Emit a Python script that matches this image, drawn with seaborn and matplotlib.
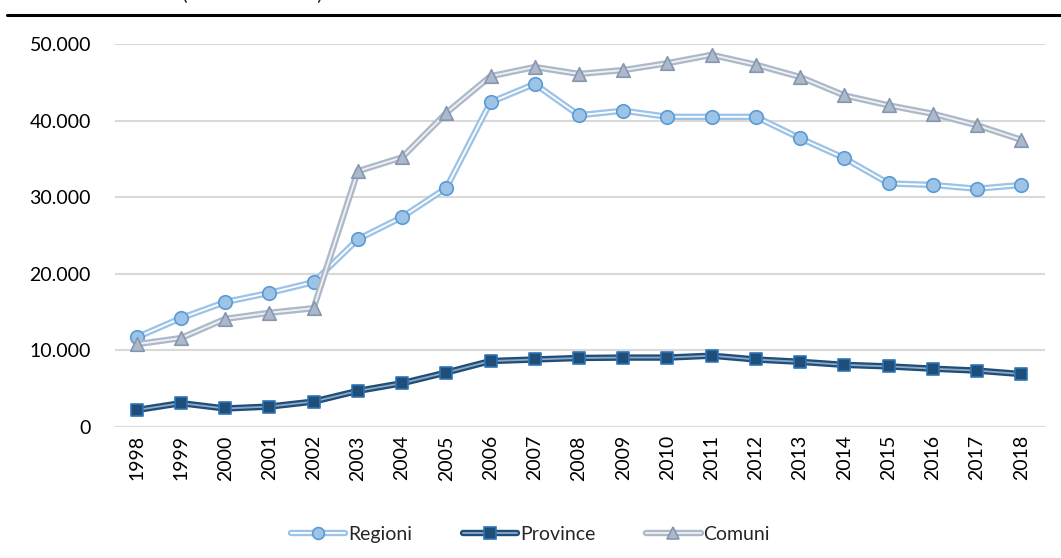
import matplotlib
matplotlib.use("Agg")
import pandas as pd
import matplotlib.pyplot as plt
import matplotlib.patheffects as pe
from matplotlib.lines import Line2D
from matplotlib.legend_handler import HandlerTuple
from matplotlib.ticker import FuncFormatter
import seaborn as sns

# data
years = list(range(1998, 2019))
regioni = [11700, 14200, 16300, 17500, 18900, 24500, 27400, 31200, 42400, 44800,
           40700, 41300, 40500, 40500, 40500, 37700, 35100, 31800, 31600, 31100, 31600]
province = [2200, 3100, 2400, 2650, 3300, 4700, 5700, 7100, 8600, 8800,
            9000, 9050, 9050, 9300, 8800, 8500, 8100, 7900, 7600, 7350, 6900]
comuni = [10800, 11600, 14100, 14900, 15500, 33400, 35200, 41000, 45800, 47000,
          46100, 46600, 47500, 48600, 47300, 45700, 43300, 42000, 40900, 39400, 37500]
series_names = ["Regioni", "Province", "Comuni"]

df = pd.DataFrame({"anno": years, "Regioni": regioni, "Province": province, "Comuni": comuni})
long_df = df.melt(id_vars="anno", var_name="serie", value_name="valore")

# styles: (outer line, inner line, marker face, marker edge, marker, size)
styles = {
    "Regioni": ("#9DC3E6", "#FFFFFF", "#9DC3E6", "#5B9BD5", "o", 95),
    "Province": ("#1F4E79", "#8FA9C4", "#1F4E79", "#2E75B6", "s", 85),
    "Comuni": ("#ADB9CA", "#F2F2F2", "#ADB9CA", "#8497B0", "^", 95),
}

sns.set_theme(style="white")
plt.rcParams["font.family"] = ["Lato", "DejaVu Sans"]

fig, ax = plt.subplots(figsize=(10.61, 5.58), dpi=100)
fig.subplots_adjust(left=0.108, right=0.985, bottom=0.235, top=0.921)

handles = []
for i, name in enumerate(series_names):
    outer, inner, face, edge, mk, size = styles[name]
    sub = long_df[long_df["serie"] == name]
    sns.lineplot(data=sub, x="anno", y="valore", color=inner, linewidth=1.3,
                 ax=ax, legend=False, zorder=3 + i * 2,
                 path_effects=[pe.Stroke(linewidth=4.6, foreground=outer), pe.Normal()])
    sns.scatterplot(data=sub, x="anno", y="valore", marker=mk, s=size, color=face,
                    edgecolor=edge, linewidth=1.2, ax=ax, legend=False, zorder=4 + i * 2)
    line_h = Line2D([], [], color=inner, linewidth=1.3,
                    path_effects=[pe.Stroke(linewidth=4.6, foreground=outer), pe.Normal()])
    mark_h = Line2D([], [], linestyle="none", marker=mk, markersize=8.5,
                    markerfacecolor=face, markeredgecolor=edge, markeredgewidth=1.2)
    handles.append((line_h, mark_h))

ax.set_ylim(0, 50000)
ax.set_xlim(1997.5, 2018.54)
ax.set_yticks(range(0, 50001, 10000))
ax.yaxis.set_major_formatter(FuncFormatter(lambda v, p: f"{v:,.0f}".replace(",", ".")))
ax.set_xticks(years)
ax.set_xticklabels([str(y) for y in years], rotation=90)
ax.tick_params(axis="y", labelsize=14, pad=17, length=0, colors="#000000")
ax.tick_params(axis="x", labelsize=14, pad=6, length=0, colors="#000000")
ax.grid(axis="y", color="#D9D9D9", linewidth=1.5)
ax.grid(axis="x", visible=False)
ax.set_axisbelow(True)
ax.set_xlabel("")
ax.set_ylabel("")
sns.despine(ax=ax, left=True, bottom=True)

ax.legend(handles, series_names, handler_map={tuple: HandlerTuple(ndivide=1)},
          loc="center", bbox_to_anchor=(0.5, 0.043), bbox_transform=fig.transFigure,
          ncol=3, frameon=False, fontsize=14, handlelength=2.8, handletextpad=0.15,
          columnspacing=2.6)

# top rule and cropped caption from the page
fig.add_artist(Line2D([0.007, 1.0], [0.974, 0.974], color="black", linewidth=2.2,
                      transform=fig.transFigure))
fig.text(0.172, 1.0, "(milioni di euro)", fontsize=15, va="baseline", ha="left")

fig.savefig("out.png", dpi=100)
